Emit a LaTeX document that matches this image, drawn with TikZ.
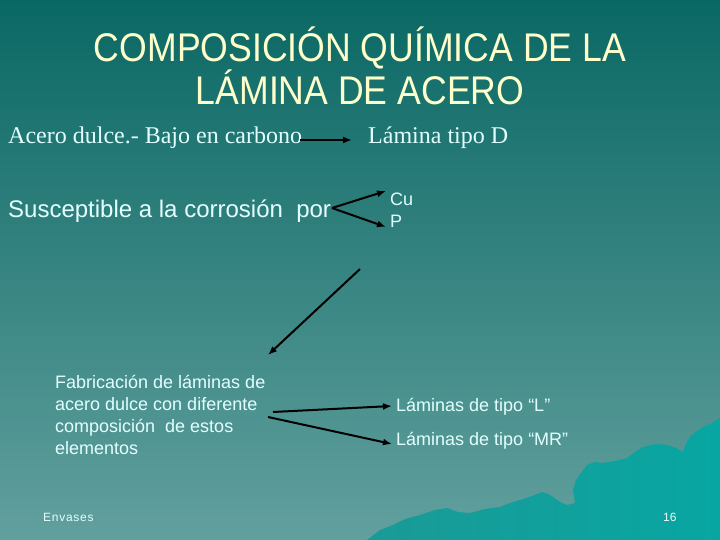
\documentclass[tikz,border=0pt]{standalone}
\usepackage{fontspec}
\setmainfont{Liberation Serif}
\newfontfamily\arial{Liberation Sans}
\usetikzlibrary{arrows.meta}
\definecolor{bgtop}{HTML}{0A6864}
\definecolor{bgmid}{HTML}{3C8A88}
\definecolor{bgbot}{HTML}{62A09E}
\definecolor{mtnL}{HTML}{1A9A96}
\definecolor{mtnR}{HTML}{08A6A2}
\definecolor{titlecol}{HTML}{FFFFCC}
\definecolor{txt}{HTML}{E4FFFF}
\begin{document}
\begin{tikzpicture}[x=1pt,y=-1pt,
  txtnode/.style={inner sep=0pt, text=txt, anchor=base west},
  titlenode/.style={inner sep=0pt, text=titlecol, anchor=base, font=\arial\fontsize{40}{44}\selectfont},
  big/.style={font=\fontsize{24}{28}\selectfont},
  bigsans/.style={font=\arial\fontsize{24}{28}\selectfont},
  mid/.style={font=\arial\fontsize{18}{22}\selectfont},
  small/.style={font=\arial\fontsize{12}{14}\selectfont},
  arr/.style={-{Latex[length=9pt,width=7pt]}, line width=2pt, black}]
\useasboundingbox (0,0) rectangle (720,540);
\shade[top color=bgtop, middle color=bgmid, bottom color=bgbot] (0,0) rectangle (720,540);
% mountains
\shade[left color=mtnL, right color=mtnR]
  (367,540) -- (380,530) -- (393,525) -- (405,519) -- (420,515) -- (435,510) -- (447,508)
  -- (458,512) -- (470,513) -- (485,509) -- (500,507) -- (510,503) -- (520,500)
  -- (532,496) -- (542,492) -- (548,494) -- (553,497) -- (560,502) -- (567,505)
  -- (575,503) -- (573,490) -- (576,480) -- (587,465) -- (595,462) -- (603,463)
  -- (615,461) -- (627,458) -- (635,452) -- (643,447) -- (655,444) -- (667,445)
  -- (676,448) -- (683,452) -- (686,444) -- (690,437) -- (697,431) -- (703,427)
  -- (712,423) -- (720,418) -- (720,540) -- cycle;
% title
\node[titlenode] (title1) at (360,62) {\scalebox{0.89}[1]{COMPOSICIÓN QUÍMICA DE LA}};
\node[titlenode] (title2) at (360,105) {\scalebox{0.89}[1]{LÁMINA DE ACERO}};
% texts
\node[txtnode, big] (acero) at (8,144) {Acero dulce.- Bajo en carbono};
\node[txtnode, big] (tipod) at (368,144) {Lámina tipo D};
\node[txtnode, bigsans] (susc) at (8,218) {Susceptible a la corrosión\ \ por};
\node[txtnode, mid] (cu) at (390,206) {Cu};
\node[txtnode, mid] (p) at (390,228) {P};
\node[txtnode, mid] (fab1) at (55,388) {Fabricación de láminas de};
\node[txtnode, mid] (fab2) at (55,410) {acero dulce con diferente};
\node[txtnode, mid] (fab3) at (55,432) {composición\ \ de estos};
\node[txtnode, mid] (fab4) at (55,454) {elementos};
\node[txtnode, mid] (tipol) at (396,411) {Láminas de tipo “L”};
\node[txtnode, mid] (tipomr) at (396,445) {Láminas de tipo “MR”};
\node[txtnode, small] (envases) at (43,521) {\addfontfeatures{LetterSpace=6}Envases};
\node[txtnode, small] (num) at (663,521) {16};
% connector ends
\coordinate (a1s) at (300,140);
\coordinate (a1e) at (352,140);
\coordinate (pors) at (332,208);
\coordinate (cue) at (386,191);
\coordinate (pe) at (386,227);
\coordinate (ds) at (360,269);
\coordinate (de) at (268,355);
\coordinate (ls) at (273,412);
\coordinate (le) at (392,406);
\coordinate (ms) at (268,417);
\coordinate (me) at (392,444);
\draw[arr] (a1s) -- (a1e);
\draw[arr] (pors) -- (cue);
\draw[arr] (pors) -- (pe);
\draw[arr] (ds) -- (de);
\draw[arr] (ls) -- (le);
\draw[arr] (ms) -- (me);
\end{tikzpicture}
\end{document}
